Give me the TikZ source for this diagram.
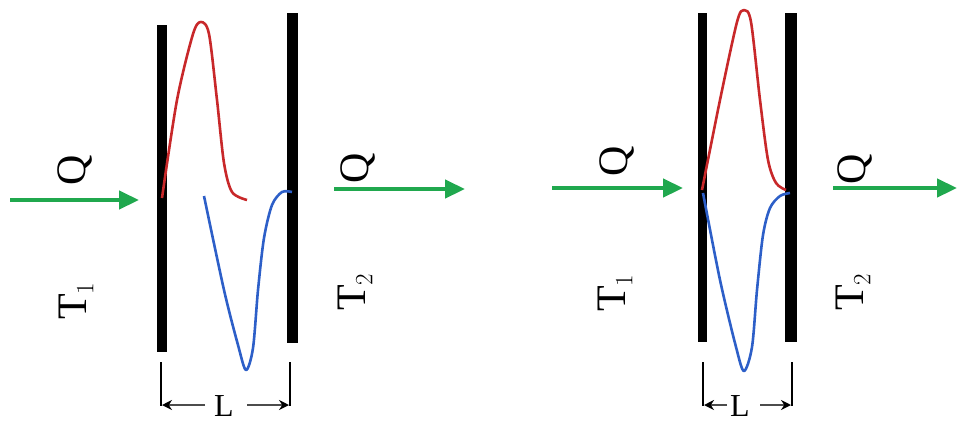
\documentclass[tikz,border=0pt]{standalone}
\usepackage{fontspec}
\setmainfont{Liberation Serif}
\usetikzlibrary{arrows.meta}
\definecolor{qgreen}{RGB}{32,168,78}
\definecolor{hotred}{RGB}{200,40,42}
\definecolor{coldblue}{RGB}{45,95,200}
\tikzset{
  wall/.style={fill=black,draw=none},
  flux/.style={qgreen,line width=4.5pt,-{Triangle[length=20pt,width=18pt]}},
  lbl/.style={font=\fontsize{42}{46}\selectfont,inner sep=0pt,rotate=90},
  dimlbl/.style={font=\fontsize{32}{36}\selectfont,inner sep=0pt},
  tick/.style={black,line width=2pt},
  dimarrow/.style={gray!60!black,line width=1.8pt,-{Stealth[length=10pt,width=10pt,black]}},
  hot/.style={hotred,line width=2.6pt,line join=round},
  cold/.style={coldblue,line width=2.6pt,line join=round},
}
\begin{document}
\begin{tikzpicture}[x=1pt,y=-1pt]
\useasboundingbox (0,0) rectangle (957,426);
% ---------- left panel ----------
\fill[wall] (157,25) rectangle (167,352);
\fill[wall] (287,13) rectangle (298,343);
\draw[hot] plot[smooth,tension=0.5] coordinates {(162,198) (177,100) (193,34) (201,22) (209,34) (217,100) (224,163) (232,192) (247,200)};
\draw[cold] plot[smooth,tension=0.5] coordinates {(204,196) (224,290) (238,345) (246,370) (253,348) (258,290) (264,238) (272,205) (282,192) (292,192)};
\coordinate (a1s) at (10,200); \coordinate (a1e) at (139,200);
\coordinate (a2s) at (334,189); \coordinate (a2e) at (465,189);
\draw[flux] (a1s) -- (a1e);
\draw[flux] (a2s) -- (a2e);
\node[lbl] (q1) at (75,170) {Q};
\node[lbl] (q2) at (358,168) {Q};
\node[lbl] (t1) at (76,301) {T$_1$};
\node[lbl] (t2) at (355,292) {T$_2$};
\coordinate (d1a) at (161,362); \coordinate (d1b) at (161,406);
\coordinate (d1c) at (290,362); \coordinate (d1d) at (290,406);
\draw[tick] (d1a) -- (d1b);
\draw[tick] (d1c) -- (d1d);
\coordinate (d1l) at (205,405); \coordinate (d1lt) at (162,405);
\coordinate (d1r) at (247,405); \coordinate (d1rt) at (289,405);
\draw[dimarrow] (d1l) -- (d1lt);
\draw[dimarrow] (d1r) -- (d1rt);
\node[dimlbl,anchor=base] (L1) at (224,416) {L};
% ---------- right panel ----------
\fill[wall] (698,13) rectangle (707,342);
\fill[wall] (785,13) rectangle (797,342);
\draw[hot] plot[smooth,tension=0.5] coordinates {(702,190) (720,100) (737,22) (744,10) (751,22) (760,100) (768,160) (776,183) (786,190)};
\draw[cold] plot[smooth,tension=0.5] coordinates {(703,193) (720,280) (736,347) (744,371) (752,347) (757,290) (763,235) (770,208) (780,196) (790,193)};
\coordinate (b1s) at (552,188); \coordinate (b1e) at (683,188);
\coordinate (b2s) at (833,188); \coordinate (b2e) at (957,188);
\draw[flux] (b1s) -- (b1e);
\draw[flux] (b2s) -- (b2e);
\node[lbl] (q3) at (617,161) {Q};
\node[lbl] (q4) at (855,169) {Q};
\node[lbl] (t3) at (615,293) {T$_1$};
\node[lbl] (t4) at (853,292) {T$_2$};
\coordinate (d2a) at (703,362); \coordinate (d2b) at (703,406);
\coordinate (d2c) at (792,362); \coordinate (d2d) at (792,406);
\draw[tick] (d2a) -- (d2b);
\draw[tick] (d2c) -- (d2d);
\coordinate (d2l) at (727,405); \coordinate (d2lt) at (704,405);
\coordinate (d2r) at (760,405); \coordinate (d2rt) at (791,405);
\draw[dimarrow] (d2l) -- (d2lt);
\draw[dimarrow] (d2r) -- (d2rt);
\node[dimlbl,anchor=base] (L2) at (740,416) {L};
\end{tikzpicture}
\end{document}
